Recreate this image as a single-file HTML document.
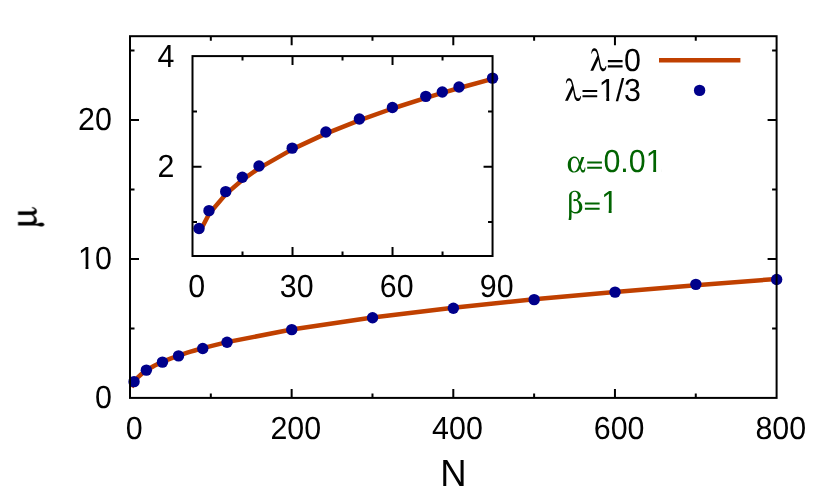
<!DOCTYPE html>
<html><head><meta charset="utf-8"><title>plot</title>
<style>
html,body{margin:0;padding:0;background:#fff;}
svg{display:block;}
text{font-family:"Liberation Sans",sans-serif;fill:#000;text-rendering:geometricPrecision;}
</style></head><body>
<svg width="830" height="495" viewBox="0 0 830 495">
<rect width="830" height="495" fill="#fff"/>

<path d="M659,60.2 H740.4" stroke="#c04000" stroke-width="4.4"/>
<circle cx="699.6" cy="90.4" r="5.7" fill="#00008b"/>
<path d="M131.62,387.22 L134.04,381.97 L138.08,377.06 L142.12,373.47 L146.16,370.53 L154.25,365.78 L162.33,361.89 L170.41,358.56 L178.50,355.60 L186.58,352.92 L190.62,351.67 L194.66,350.47 L202.74,348.19 L226.99,342.15 L291.65,329.55 L372.48,317.54 L453.30,307.75 L534.12,299.34 L614.95,291.90 L695.77,285.16 L776.60,278.98" fill="none" stroke="#c04000" stroke-width="4.5" stroke-linejoin="round"/>
<g fill="#00008b"><circle cx="134.05" cy="381.65" r="5.7"/><circle cx="146.35" cy="370.15" r="5.7"/><circle cx="162.45" cy="362.15" r="5.7"/><circle cx="178.55" cy="355.85" r="5.7"/><circle cx="202.75" cy="348.55" r="5.7"/><circle cx="227.05" cy="342.25" r="5.7"/><circle cx="291.75" cy="329.65" r="5.7"/><circle cx="372.55" cy="317.75" r="5.7"/><circle cx="453.35" cy="308.25" r="5.7"/><circle cx="534.15" cy="299.65" r="5.7"/><circle cx="615.05" cy="292.15" r="5.7"/><circle cx="695.85" cy="284.35" r="5.7"/><circle cx="776.65" cy="279.55" r="5.7"/></g>
<path d="M210.82,397.9 v-4.5 M210.82,36.2 v4.5 M291.65,397.9 v-9 M291.65,36.2 v9 M372.48,397.9 v-4.5 M372.48,36.2 v4.5 M453.30,397.9 v-9 M453.30,36.2 v9 M534.12,397.9 v-4.5 M534.12,36.2 v4.5 M614.95,397.9 v-9 M614.95,36.2 v9 M695.77,397.9 v-4.5 M695.77,36.2 v4.5 M130.0,328.40 h4.5 M776.6,328.40 h-4.5 M130.0,258.90 h9 M776.6,258.90 h-9 M130.0,189.40 h4.5 M776.6,189.40 h-4.5 M130.0,119.90 h9 M776.6,119.90 h-9 M130.0,50.40 h4.5 M776.6,50.40 h-4.5" stroke="#000" stroke-width="2" fill="none"/>
<rect x="130.0" y="36.2" width="646.60" height="361.70" fill="none" stroke="#000" stroke-width="2"/>
<path d="M199.17,233.04 L209.17,213.73 L225.84,194.13 L242.51,179.80 L259.18,168.10 L292.52,149.11 L325.86,133.62 L359.19,120.31 L392.53,108.50 L425.87,97.83 L442.54,92.83 L459.21,88.03 L492.55,78.94" fill="none" stroke="#c04000" stroke-width="4.5" stroke-linejoin="round"/>
<g fill="#00008b"><circle cx="199.00" cy="228.45" r="5.7"/><circle cx="209.00" cy="210.65" r="5.7"/><circle cx="225.70" cy="191.65" r="5.7"/><circle cx="242.30" cy="177.25" r="5.7"/><circle cx="259.00" cy="166.05" r="5.7"/><circle cx="292.20" cy="148.15" r="5.7"/><circle cx="325.90" cy="131.95" r="5.7"/><circle cx="359.40" cy="119.05" r="5.7"/><circle cx="392.40" cy="107.45" r="5.7"/><circle cx="425.80" cy="96.35" r="5.7"/><circle cx="442.30" cy="91.95" r="5.7"/><circle cx="459.00" cy="87.05" r="5.7"/><circle cx="492.55" cy="78.15" r="5.7"/></g>
<path d="M242.51,256.0 v-4.5 M242.51,56.1 v4.5 M292.52,256.0 v-9 M292.52,56.1 v9 M342.52,256.0 v-4.5 M342.52,56.1 v4.5 M392.53,256.0 v-9 M392.53,56.1 v9 M442.54,256.0 v-4.5 M442.54,56.1 v4.5 M192.5,222.00 h4.5 M492.55,222.00 h-4.5 M192.5,166.70 h9 M492.55,166.70 h-9 M192.5,111.40 h4.5 M492.55,111.40 h-4.5" stroke="#000" stroke-width="2" fill="none"/>
<rect x="192.5" y="56.1" width="300.05" height="199.90" fill="none" stroke="#000" stroke-width="2"/>
<g opacity="0.999">
<text transform="translate(111.80,408.30) scale(1,1.05)" text-anchor="end" font-size="30.4">0</text>
<text transform="translate(111.80,269.30) scale(1,1.05)" text-anchor="end" font-size="30.4">10</text><path d="M79.52,266.00H85.52v5.00H79.52z M88.45,266.00H94.11v5.00H88.45z" fill="#fff"/>
<text transform="translate(111.80,130.30) scale(1,1.05)" text-anchor="end" font-size="30.4">20</text>
<text transform="translate(134.15,438.65) scale(1,1.05)" text-anchor="middle" font-size="30.4">0</text>
<text transform="translate(295.80,438.65) scale(1,1.05)" text-anchor="middle" font-size="30.4">200</text>
<text transform="translate(457.45,438.65) scale(1,1.05)" text-anchor="middle" font-size="30.4">400</text>
<text transform="translate(619.10,438.65) scale(1,1.05)" text-anchor="middle" font-size="30.4">600</text>
<text transform="translate(780.75,438.65) scale(1,1.05)" text-anchor="middle" font-size="30.4">800</text>
<text transform="translate(174.30,177.30) scale(1,1.05)" text-anchor="end" font-size="30.4">2</text>
<text transform="translate(174.30,66.70) scale(1,1.05)" text-anchor="end" font-size="30.4">4</text>
<text transform="translate(196.65,297.00) scale(1,1.05)" text-anchor="middle" font-size="30.4">0</text>
<text transform="translate(296.67,297.00) scale(1,1.05)" text-anchor="middle" font-size="30.4">30</text>
<text transform="translate(396.68,297.00) scale(1,1.05)" text-anchor="middle" font-size="30.4">60</text>
<text transform="translate(496.70,297.00) scale(1,1.05)" text-anchor="middle" font-size="30.4">90</text>
<text transform="translate(453.40,485.70) scale(1,1.04)" text-anchor="middle" font-size="36.5">N</text>
<g transform="translate(36.2,227.5) rotate(-90)"><path transform="translate(0.00,0.00) scale(0.0360,-0.0360)" d="M442 500H353L354 131C318 80 284 58 242 58C184 58 150 99 150 169V500H62V20C62 -1 58 -26 51 -56C34 -118 33 -124 33 -147C33 -189 54 -219 83 -219C112 -219 132 -189 132 -145C132 -124 129 -111 113 -53C103 -17 101 -7 101 21V33C143 -2 166 -13 200 -13C250 -13 301 18 354 80C362 48 367 36 377 21C392 0 419 -13 448 -13C510 -13 553 31 567 108L540 109C536 71 515 41 492 41C462 41 442 77 442 131Z" fill="#000" stroke="#000" stroke-width="0.3" vector-effect="non-scaling-stroke"><title>μ</title></path></g>
<path transform="translate(589.65,70.75) scale(0.0304,-0.0304)" d="M75 570C82 627 111 660 156 660C188 660 215 635 230 590C237 570 246 537 255 499L24 0H118L288 358C320 163 336 92 354 53C376 10 408 -13 445 -13C484 -13 515 11 532 55C543 82 547 109 548 156H527C519 104 496 75 460 75C430 75 404 94 388 129C375 155 368 181 354 255L327 384C326 387 325 394 323 404C300 533 264 655 240 691C218 723 188 740 155 740C94 740 62 688 51 570Z" fill="#000"><title>λ</title></path>
<path transform="translate(606.34,70.75) scale(0.0304,-0.0304)" d="M534 353H50V283H534ZM534 181H50V111H534Z" fill="#000"><title>=</title></path>
<text transform="translate(624.10,70.75) scale(1,1.05)" text-anchor="start" font-size="30.4">0</text>
<path transform="translate(564.30,100.65) scale(0.0304,-0.0304)" d="M75 570C82 627 111 660 156 660C188 660 215 635 230 590C237 570 246 537 255 499L24 0H118L288 358C320 163 336 92 354 53C376 10 408 -13 445 -13C484 -13 515 11 532 55C543 82 547 109 548 156H527C519 104 496 75 460 75C430 75 404 94 388 129C375 155 368 181 354 255L327 384C326 387 325 394 323 404C300 533 264 655 240 691C218 723 188 740 155 740C94 740 62 688 51 570Z" fill="#000"><title>λ</title></path>
<path transform="translate(580.99,100.65) scale(0.0304,-0.0304)" d="M534 353H50V283H534ZM534 181H50V111H534Z" fill="#000"><title>=</title></path>
<text transform="translate(598.74,100.65) scale(1,1.05)" text-anchor="start" font-size="30.4">1/3</text><path d="M600.26,97.00H606.27v5.00H600.26z M609.20,97.00H614.86v5.00H609.20z" fill="#fff"/>
<path transform="translate(566.50,172.20) scale(0.0304,-0.0304)" d="M496 500 435 328C409 449 348 513 257 513C211 513 162 494 125 462C69 415 41 343 41 244C41 85 120 -13 250 -13C338 -13 403 32 444 121C449 102 456 84 467 59C493 3 510 -13 542 -13C575 -13 598 8 611 50C618 73 621 95 622 151H596C594 100 575 63 550 63C517 63 484 116 472 185L585 500ZM406 241 383 176C348 74 308 25 258 25C227 25 196 45 180 74C158 115 146 178 146 250C146 322 160 383 186 427C204 456 227 470 258 470C329 470 375 413 395 299Z" fill="#006400"><title>α</title></path>
<path transform="translate(585.68,172.20) scale(0.0304,-0.0304)" d="M534 353H50V283H534ZM534 181H50V111H534Z" fill="#006400"><title>=</title></path>
<text transform="translate(603.44,172.20) scale(1,1.05)" text-anchor="start" font-size="30.4" style="fill:#006400">0.01</text><path d="M647.21,169.00H653.22v5.00H647.21z M656.14,169.00H661.80v5.00H656.14z" fill="#fff"/>
<path transform="translate(566.70,213.20) scale(0.0304,-0.0304)" d="M79 -62C79 -115 71 -184 61 -222H143C156 -199 159 -172 159 -94V42C212 2 256 -13 314 -13C433 -13 515 75 515 204C515 311 462 386 352 433C428 474 464 520 464 577C464 666 375 740 268 740C160 740 79 669 79 574ZM159 584C159 654 201 703 260 703C323 703 368 645 368 565C368 512 340 455 314 455C311 455 308 455 292 459C277 462 269 463 261 463C237 463 218 447 218 428C218 409 236 397 262 397C268 397 273 398 283 400C295 403 305 404 313 404C326 404 333 402 339 396C384 354 411 278 411 196C411 96 367 37 293 37C243 37 193 60 159 99Z" fill="#006400"><title>β</title></path>
<path transform="translate(583.39,213.20) scale(0.0304,-0.0304)" d="M534 353H50V283H534ZM534 181H50V111H534Z" fill="#006400"><title>=</title></path>
<text transform="translate(601.14,213.20) scale(1,1.05)" text-anchor="start" font-size="30.4" style="fill:#006400">1</text><path d="M602.66,210.00H608.67v5.00H602.66z M611.59,210.00H617.26v5.00H611.59z" fill="#fff"/>
</g>
</svg></body></html>
